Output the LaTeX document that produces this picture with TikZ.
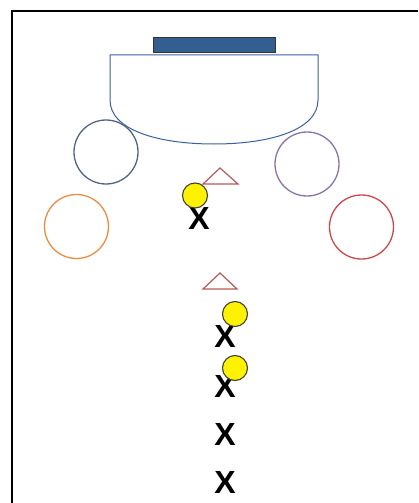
\documentclass[tikz,border=0pt]{standalone}
\usepackage{fontspec}
\setmainfont{Liberation Sans}
\definecolor{goalblue}{HTML}{335E8F}
\definecolor{arealine}{HTML}{3A5FA0}
\definecolor{slate}{HTML}{4F6580}
\definecolor{lilac}{HTML}{8A72A8}
\definecolor{orng}{HTML}{F08A3E}
\definecolor{brick}{HTML}{D0444A}
\definecolor{cone}{HTML}{B35A5A}
\definecolor{ballyel}{HTML}{FFF200}
\tikzset{
  ring/.style={circle, draw=#1, line width=1.3pt, minimum size=64pt, inner sep=0pt},
  ball/.style={circle, draw=black!75, fill=ballyel, line width=1.1pt, minimum size=25pt, inner sep=0pt},
  player/.style={font=\bfseries\fontsize{32}{32}\selectfont, inner sep=0pt, text=black},
  conetri/.style={draw=cone, line width=1.2pt, line join=miter}
}
\begin{document}
\begin{tikzpicture}[x=1pt,y=-1pt]
\useasboundingbox (0,0) rectangle (418,503);
% frame (top and left only)
\draw[line width=2.2pt] (12,503) -- (12,11) -- (418,11);
% goal
\draw[fill=goalblue, draw=black!80, line width=1pt] (153,38) rectangle (275,53);
% goal area
\draw[draw=arealine, line width=1pt] (110,55) -- (110,100)
  .. controls (110,130) and (158,144) .. (214,144)
  .. controls (270,144) and (318,130) .. (318,100) -- (318,55) -- cycle;
% rings
\node[ring=slate] (r1) at (106,152) {};
\node[ring=lilac] (r2) at (307,164) {};
\node[ring=orng] (r3) at (76.5,226.5) {};
\node[ring=brick] (r4) at (361.5,227) {};
% cones
\draw[conetri] (203,184) -- (220,168) -- (238,184) -- cycle;
\draw[conetri] (203,289) -- (220,273) -- (237,289) -- cycle;
% players
\node[player] (x1) at (199,218) {X};
\node[player] (x2) at (225,336) {X};
\node[player] (x3) at (225,386) {X};
\node[player] (x4) at (225,434) {X};
\node[player] (x5) at (225,482) {X};
% balls
\node[ball] (b1) at (195,195.5) {};
\node[ball] (b2) at (235,314) {};
\node[ball] (b3) at (235,368) {};
\end{tikzpicture}
\end{document}
